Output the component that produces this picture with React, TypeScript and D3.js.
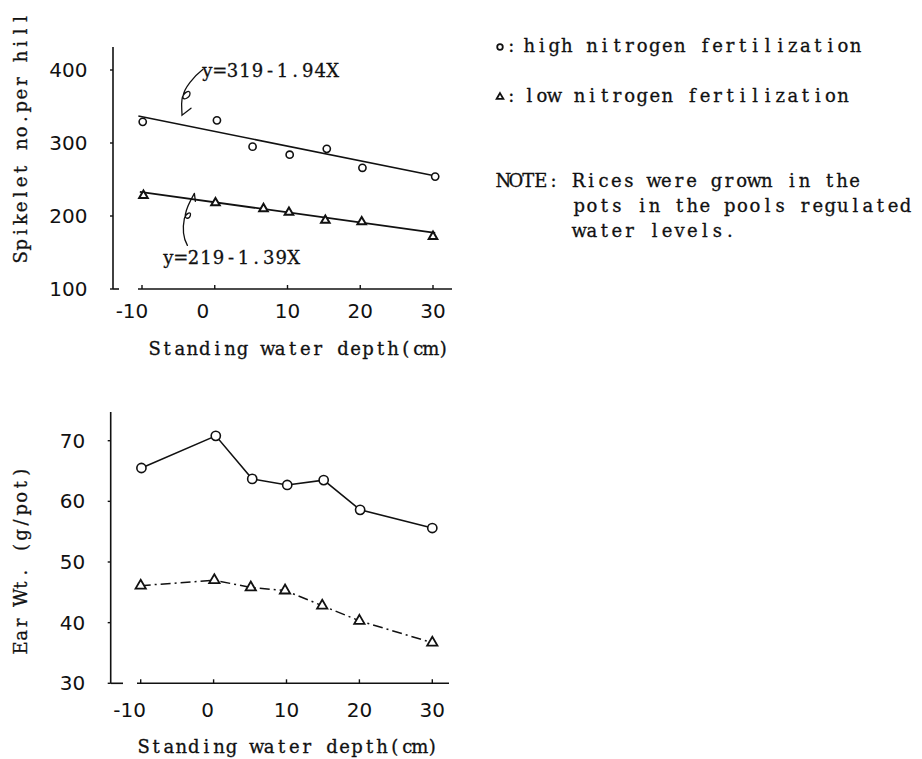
import React from "react";
import * as d3 from "d3";

// ---------- data ----------
const xTicks = [-10, 0, 10, 20, 30];
const topYTicks = [100, 200, 300, 400];
const bottomYTicks = [30, 40, 50, 60, 70];

// Top panel: spikelet number per hill
const depthHighTop = [-9.9, 0.3, 5.2, 10.3, 15.4, 20.3, 30.3];
const spikeletHigh = [329, 331, 295, 284, 292, 266, 254];
const depthLowTop = [-9.8, 0.1, 6.7, 10.2, 15.2, 20.2, 30.0];
const spikeletLow = [228, 218, 210, 205, 194, 192, 172];
// regression lines as drawn (endpoints)
const fitHighX = [-10.5, 30.7];
const fitHighY = [337, 254];
const fitLowX = [-10.3, 30.3];
const fitLowY = [233, 177];
const fitHighLabel = "y=319-1.94X";
const fitLowLabel = "y=219-1.39X";

// Bottom panel: ear weight
const depthHighBottom = [-9.9, 0.3, 5.3, 10.1, 15.1, 20.1, 30];
const earHigh = [65.5, 70.8, 63.7, 62.7, 63.5, 58.6, 55.6];
const depthLowBottom = [-10, 0.1, 5.1, 9.8, 14.9, 20, 30];
const earLow = [46.1, 47.0, 45.8, 45.3, 42.8, 40.3, 36.7];

const xTitle = "Standing water depth(cm)";
const topYTitle = "Spikelet no.per hill";
const bottomYTitle = "Ear Wt. (g/pot)";
const legendHigh = "high nitrogen fertilization";
const legendLow = "low nitrogen fertilization";
const noteLines = ["NOTE: Rices were grown in the", "pots in the pools regulated", "water levels."];

const SERIF = "'DejaVu Serif', 'Liberation Serif', serif";
const SANS = "'DejaVu Sans', 'Liberation Sans', sans-serif";
const INK = "#111";
const CELL = 12.55;

const zip = (xs: number[], ys: number[]) => xs.map((x, i) => [x, ys[i]] as [number, number]);

// typewriter-style text: every character centred in a fixed-width cell
function TypeText({ x, y, text, anchor = "start", size = 18 }: { x: number; y: number; text: string; anchor?: string; size?: number }) {
  const n = text.length;
  const w = n * CELL;
  const start = anchor === "middle" ? x - w / 2 : anchor === "end" ? x - w : x;
  const xs = Array.from(text).map((_, i) => (start + (i + 0.5) * CELL).toFixed(2)).join(" ");
  return (
    <text x={xs} y={y} textAnchor="middle" fontFamily={SERIF} fontSize={size} fill={INK} stroke={INK} strokeWidth={0.3}>
      {text}
    </text>
  );
}

function Axes({ x, y, yTicks, axisX, axisY, yTop, xStubEnd, xStart, xEnd, tickBaseline, titleBaseline, titleCx, yTitle, yTitleCy, zeroShift, minusShift }: any) {
  return (
    <g>
      <g stroke={INK} fill="none">
        <line x1={axisX} y1={yTop} x2={axisX} y2={axisY} strokeWidth={1.6} />
        <line x1={axisX} y1={axisY} x2={xStubEnd} y2={axisY} strokeWidth={1.6} />
        <line x1={xStart} y1={axisY} x2={xEnd} y2={axisY} strokeWidth={1.6} />
        {xTicks.map((t) => (
          <line key={"xt" + t} x1={x(t)} x2={x(t)} y1={axisY} y2={axisY - 4} strokeWidth={1.4} />
        ))}
        {yTicks.map((t: number) => (
          <line key={"yt" + t} x1={axisX - 3} x2={axisX} y1={y(t)} y2={y(t)} strokeWidth={1.4} />
        ))}
      </g>
      <g fill={INK} fontFamily={SANS} fontSize={20}>
        {xTicks.map((t) => (
          <text key={"xl" + t} x={x(t) + (t === -10 ? minusShift : t === 0 ? zeroShift : 0)} y={tickBaseline} textAnchor="middle">
            {String(t)}
          </text>
        ))}
        {yTicks.map((t: number) => (
          <text key={"yl" + t} x={axisX - 25.5} y={y(t) + 7} textAnchor="end">
            {t}
          </text>
        ))}
      </g>
      <TypeText x={titleCx} y={titleBaseline} text={xTitle} anchor="middle" />
      <g transform={`translate(27,${yTitleCy}) rotate(-90)`}>
        <TypeText x={0} y={0} text={yTitle} anchor="middle" />
      </g>
    </g>
  );
}

export default function App() {
  // top scales
  const xT = d3.scaleLinear().domain([-10, 30]).range([142, 433]);
  const yT = d3.scaleLinear().domain([100, 400]).range([289, 70]);
  // bottom scales
  const xB = d3.scaleLinear().domain([-10, 30]).range([140.7, 432.3]);
  const yB = d3.scaleLinear().domain([30, 70]).range([683.3, 440.7]);

  const lineT = d3.line<[number, number]>().x((d) => xT(d[0])).y((d) => yT(d[1]));
  const lineB = d3.line<[number, number]>().x((d) => xB(d[0])).y((d) => yB(d[1]));

  const triSmall = d3.symbol().type(d3.symbolTriangle).size(32)()!;
  const triBig = d3.symbol().type(d3.symbolTriangle).size(46)()!;
  const triLegend = d3.symbol().type(d3.symbolTriangle).size(20)()!;

  // leader anchors (tips) in data space
  const tipHigh = [xT(-4.5), yT(338)];
  const tipLow = [xT(-2.8), yT(231)];

  return (
    <svg width={922} height={759} style={{ position: "absolute", left: 0, top: 0, background: "#fff" }}>
      <rect width={922} height={759} fill="#fff" />

      {/* ---------- top panel ---------- */}
      <Axes
        x={xT}
        y={yT}
        yTicks={topYTicks}
        axisX={113}
        axisY={289}
        yTop={47}
        xStubEnd={119}
        xStart={138}
        xEnd={452}
        tickBaseline={318}
        titleBaseline={355}
        titleCx={299}
        yTitle={topYTitle}
        yTitleCy={138}
        zeroShift={-12}
        minusShift={-10}
      />
      <path d={lineT(zip(fitHighX, fitHighY))!} stroke={INK} strokeWidth={1.5} fill="none" />
      <path d={lineT(zip(fitLowX, fitLowY))!} stroke={INK} strokeWidth={1.8} fill="none" />
      {depthHighTop.map((d, i) => (
        <circle key={"ch" + i} cx={xT(d)} cy={yT(spikeletHigh[i])} r={3.6} fill="#fff" stroke={INK} strokeWidth={1.6} />
      ))}
      {depthLowTop.map((d, i) => (
        <path key={"tl" + i} d={triSmall} transform={`translate(${xT(d)},${yT(spikeletLow[i])})`} fill="#fff" stroke={INK} strokeWidth={2} />
      ))}
      {/* leaders */}
      <g transform={`translate(${tipHigh[0]},${tipHigh[1]})`} fill="none" stroke={INK} strokeWidth={1.3} strokeLinecap="round">
        <path d="M 21 -46 C 12 -39 2 -27 1 -19 C 0 -14 8 -17 8 -22 C 8 -26 1 -23 0 -16 C -1 -10 0 -5 0 0 L 9 -7" />
      </g>
      <g transform={`translate(${tipLow[0]},${tipLow[1]})`} fill="none" stroke={INK} strokeWidth={1.3} strokeLinecap="round">
        <path d="M 0 0 C -4 7 -8 15 -9 21 C -10 26 -5 26 -4 22 C -3 18 -8 19 -10 25 C -12 35 -11 45 -7 52 M 0 0 L 1 8" />
      </g>
      <TypeText x={201} y={77} text={fitHighLabel} />
      <TypeText x={162} y={264} text={fitLowLabel} />

      {/* ---------- bottom panel ---------- */}
      <Axes
        x={xB}
        y={yB}
        yTicks={bottomYTicks}
        axisX={110.7}
        axisY={683.3}
        yTop={412}
        xStubEnd={123}
        xStart={137}
        xEnd={449}
        tickBaseline={717}
        titleBaseline={753}
        titleCx={288}
        yTitle={bottomYTitle}
        yTitleCy={560}
        zeroShift={-6}
        minusShift={-11}
      />
      <path d={lineB(zip(depthHighBottom, earHigh))!} stroke={INK} strokeWidth={1.6} fill="none" />
      <path d={lineB(zip(depthLowBottom, earLow))!} stroke={INK} strokeWidth={1.5} fill="none" strokeDasharray="10 4 2 4" />
      {depthHighBottom.map((d, i) => (
        <circle key={"bh" + i} cx={xB(d)} cy={yB(earHigh[i])} r={4.6} fill="#fff" stroke={INK} strokeWidth={1.6} />
      ))}
      {depthLowBottom.map((d, i) => (
        <path key={"bl" + i} d={triBig} transform={`translate(${xB(d)},${yB(earLow[i])})`} fill="#fff" stroke={INK} strokeWidth={1.8} />
      ))}

      {/* ---------- legend & note ---------- */}
      <circle cx={500} cy={47} r={2.8} fill="#fff" stroke={INK} strokeWidth={1.8} />
      <TypeText x={505} y={52} text=":" />
      <TypeText x={523} y={52} text={legendHigh} />
      <path d={triLegend} transform="translate(500,97)" fill="#fff" stroke={INK} strokeWidth={1.8} />
      <TypeText x={505} y={102} text=":" />
      <TypeText x={523} y={102} text={legendLow} />
      <TypeText x={497} y={187} text={noteLines[0]} />
      <TypeText x={573} y={212} text={noteLines[1]} />
      <TypeText x={573} y={237} text={noteLines[2]} />
    </svg>
  );
}
